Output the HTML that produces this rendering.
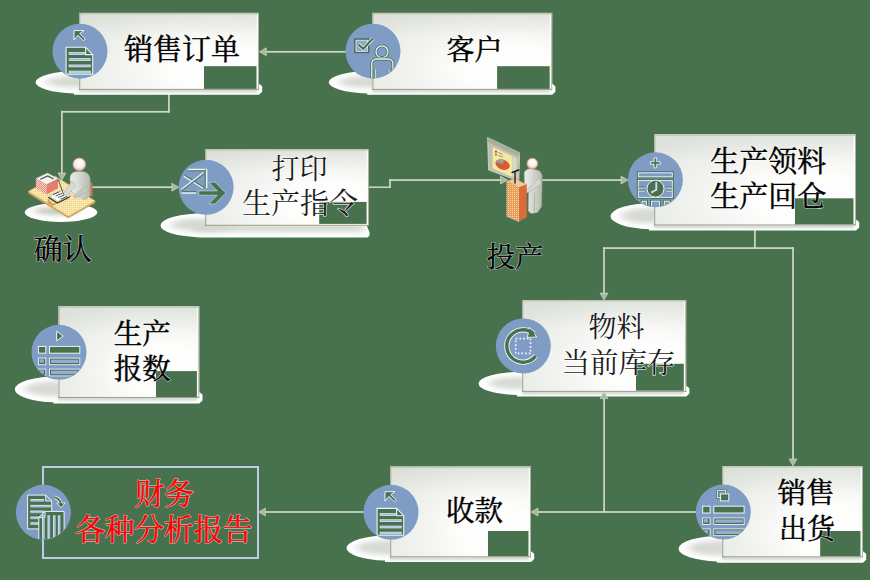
<!DOCTYPE html><html><head><meta charset="utf-8"><title>flow</title><style>html,body{margin:0;padding:0;background:#47724d;font-family:"Liberation Sans",sans-serif;}svg{display:block}svg text{font-family:"Liberation Serif","Noto Serif CJK SC",serif;text-anchor:middle}</style></head><body>
<svg width="870" height="580" viewBox="0 0 870 580">
<defs>
<radialGradient id="bg1" cx="0.78" cy="0.72" r="0.95" gradientUnits="objectBoundingBox"><stop offset="0" stop-color="#ffffff"/><stop offset="0.3" stop-color="#fdfdfc"/><stop offset="1" stop-color="#e4e7e1"/></radialGradient><linearGradient id="tb" x1="0" y1="0" x2="0" y2="1"><stop offset="0" stop-color="#cfd4ca" stop-opacity="0.4"/><stop offset="0.3" stop-color="#cfd4ca" stop-opacity="0"/></linearGradient>
<filter id="bl" x="-20%" y="-50%" width="140%" height="200%"><feGaussianBlur stdDeviation="4 2.5"/></filter>
<filter id="bl2" x="-20%" y="-50%" width="140%" height="200%"><feGaussianBlur stdDeviation="1.2"/></filter>
</defs>
<rect width="870" height="580" fill="#47724d"/>
<rect x="168.05" y="89.00" width="1.70" height="23.70" fill="#d3d7c6"/>
<rect x="61.00" y="110.95" width="108.80" height="1.70" fill="#d3d7c6"/>
<rect x="61.05" y="110.90" width="1.70" height="62.10" fill="#d3d7c6"/>
<rect x="265.00" y="50.95" width="81.00" height="1.70" fill="#d3d7c6"/>
<rect x="91.50" y="186.35" width="80.50" height="1.70" fill="#d3d7c6"/>
<rect x="368.00" y="186.45" width="22.90" height="1.50" fill="#d3d7c6"/>
<rect x="389.15" y="179.20" width="1.70" height="8.80" fill="#d3d7c6"/>
<rect x="389.10" y="179.25" width="111.90" height="1.70" fill="#d3d7c6"/>
<rect x="541.00" y="179.25" width="80.00" height="1.70" fill="#d3d7c6"/>
<rect x="754.05" y="224.00" width="1.70" height="25.00" fill="#d3d7c6"/>
<rect x="603.10" y="247.25" width="190.80" height="1.70" fill="#d3d7c6"/>
<rect x="603.15" y="247.20" width="1.70" height="45.80" fill="#d3d7c6"/>
<rect x="792.15" y="247.20" width="1.70" height="211.80" fill="#d3d7c6"/>
<rect x="603.25" y="398.00" width="1.70" height="114.90" fill="#d3d7c6"/>
<rect x="537.00" y="511.15" width="160.00" height="1.70" fill="#d3d7c6"/>
<rect x="265.00" y="511.15" width="99.00" height="1.70" fill="#d3d7c6"/>
<clipPath id="c1"><ellipse cx="79.5" cy="82.3" rx="44.0" ry="11.3"/><path d="M74.0 83.8H259.0L262.2 86.3V91.8L259.0 94.8H74.0Z"/></clipPath>
<g clip-path="url(#c1)"><rect x="29.0" y="12.9" width="240.0" height="96.9" fill="#ffffff"/>
<ellipse cx="76.5" cy="81.8" rx="31.0" ry="5.8" fill="#d6dad3" filter="url(#bl)"/>
<rect x="79.0" y="89.3" width="178.0" height="3" fill="#d0d4cc" filter="url(#bl2)"/>
</g>
<rect x="79.00" y="12.90" width="180.00" height="76.90" fill="url(#bg1)"/>
<rect x="79.00" y="12.90" width="180.00" height="76.90" fill="url(#tb)"/>
<rect x="204.00" y="66.20" width="52.80" height="22.70" fill="#47724d"/>
<rect x="79.00" y="12.90" width="180.00" height="1.6" fill="#c3c9b7"/>
<rect x="79.00" y="12.90" width="1.3" height="76.90" fill="#adb39e"/>
<rect x="256.60" y="14.50" width="1.6" height="74.40" fill="#fbfbf9"/>
<rect x="258.10" y="12.90" width="0.9" height="76.90" fill="#a5aa95"/>
<rect x="79.00" y="88.90" width="180.00" height="0.9" fill="#8f937f"/>
<clipPath id="c2"><ellipse cx="372.7" cy="82.3" rx="44.0" ry="11.3"/><path d="M367.2 83.8H552.2L555.4 86.3V91.8L552.2 94.8H367.2Z"/></clipPath>
<g clip-path="url(#c2)"><rect x="322.2" y="12.9" width="240.0" height="96.9" fill="#ffffff"/>
<ellipse cx="369.7" cy="81.8" rx="31.0" ry="5.8" fill="#d6dad3" filter="url(#bl)"/>
<rect x="372.2" y="89.3" width="178.0" height="3" fill="#d0d4cc" filter="url(#bl2)"/>
</g>
<rect x="372.20" y="12.90" width="180.00" height="76.90" fill="url(#bg1)"/>
<rect x="372.20" y="12.90" width="180.00" height="76.90" fill="url(#tb)"/>
<rect x="497.10" y="66.20" width="52.70" height="22.70" fill="#47724d"/>
<rect x="372.20" y="12.90" width="180.00" height="1.6" fill="#c3c9b7"/>
<rect x="372.20" y="12.90" width="1.3" height="76.90" fill="#adb39e"/>
<rect x="549.80" y="14.50" width="1.6" height="74.40" fill="#fbfbf9"/>
<rect x="551.30" y="12.90" width="0.9" height="76.90" fill="#a5aa95"/>
<rect x="372.20" y="88.90" width="180.00" height="0.9" fill="#8f937f"/>
<clipPath id="c3"><ellipse cx="205.5" cy="225.4" rx="45.0" ry="12.1"/><path d="M200.0 223.7H366.0L369.5 232.2V235.5L367.5 237.5H200.0Z"/></clipPath>
<g clip-path="url(#c3)"><rect x="155.0" y="149.2" width="224.0" height="96.5" fill="#ffffff"/>
<ellipse cx="202.5" cy="224.9" rx="32.0" ry="6.6" fill="#d6dad3" filter="url(#bl)"/>
<rect x="195.0" y="224.7" width="169.0" height="7" fill="#d3d7cf" filter="url(#bl)"/>
</g>
<rect x="205.00" y="149.20" width="164.00" height="76.50" fill="url(#bg1)"/>
<rect x="205.00" y="149.20" width="164.00" height="76.50" fill="url(#tb)"/>
<rect x="319.20" y="201.90" width="47.70" height="22.00" fill="#47724d"/>
<rect x="205.00" y="149.20" width="164.00" height="1.6" fill="#c3c9b7"/>
<rect x="205.00" y="149.20" width="1.3" height="76.50" fill="#adb39e"/>
<rect x="366.60" y="150.80" width="1.6" height="74.00" fill="#fbfbf9"/>
<rect x="368.10" y="149.20" width="0.9" height="76.50" fill="#a5aa95"/>
<rect x="205.00" y="224.80" width="164.00" height="0.9" fill="#8f937f"/>
<clipPath id="c4"><ellipse cx="654.5" cy="216.2" rx="44.0" ry="13.2"/><path d="M649.0 219.4H856.0L859.2 221.9V227.6L856.0 230.6H649.0Z"/></clipPath>
<g clip-path="url(#c4)"><rect x="604.0" y="134.2" width="262.0" height="111.2" fill="#ffffff"/>
<ellipse cx="651.5" cy="215.7" rx="31.0" ry="7.7" fill="#d6dad3" filter="url(#bl)"/>
<rect x="654.0" y="224.9" width="200.0" height="3" fill="#d0d4cc" filter="url(#bl2)"/>
</g>
<rect x="654.00" y="134.20" width="202.00" height="91.20" fill="url(#bg1)"/>
<rect x="654.00" y="134.20" width="202.00" height="91.20" fill="url(#tb)"/>
<rect x="795.00" y="198.30" width="58.80" height="26.20" fill="#47724d"/>
<rect x="654.00" y="134.20" width="202.00" height="1.6" fill="#c3c9b7"/>
<rect x="654.00" y="134.20" width="1.3" height="91.20" fill="#adb39e"/>
<rect x="853.60" y="135.80" width="1.6" height="88.70" fill="#fbfbf9"/>
<rect x="855.10" y="134.20" width="0.9" height="91.20" fill="#a5aa95"/>
<rect x="654.00" y="224.50" width="202.00" height="0.9" fill="#8f937f"/>
<clipPath id="c5"><ellipse cx="58.8" cy="389.3" rx="44.0" ry="13.1"/><path d="M53.3 392.0H199.3L202.5 394.5V400.6L199.3 403.6H53.3Z"/></clipPath>
<g clip-path="url(#c5)"><rect x="8.3" y="306.2" width="201.0" height="111.8" fill="#ffffff"/>
<ellipse cx="55.8" cy="388.8" rx="31.0" ry="7.6" fill="#d6dad3" filter="url(#bl)"/>
<rect x="58.3" y="397.5" width="139.0" height="3" fill="#d0d4cc" filter="url(#bl2)"/>
</g>
<rect x="58.30" y="306.20" width="141.00" height="91.80" fill="url(#bg1)"/>
<rect x="58.30" y="306.20" width="141.00" height="91.80" fill="url(#tb)"/>
<rect x="156.00" y="371.10" width="41.10" height="25.90" fill="#47724d"/>
<rect x="58.30" y="306.20" width="141.00" height="1.6" fill="#c3c9b7"/>
<rect x="58.30" y="306.20" width="1.3" height="91.80" fill="#adb39e"/>
<rect x="196.90" y="307.80" width="1.6" height="89.30" fill="#fbfbf9"/>
<rect x="198.40" y="306.20" width="0.9" height="91.80" fill="#a5aa95"/>
<rect x="58.30" y="397.10" width="141.00" height="0.9" fill="#8f937f"/>
<clipPath id="c6"><ellipse cx="522.5" cy="383.5" rx="44.0" ry="11.7"/><path d="M517.0 385.8H686.2L689.4 388.3V393.4L686.2 396.4H517.0Z"/></clipPath>
<g clip-path="url(#c6)"><rect x="472.0" y="300.0" width="224.2" height="111.8" fill="#ffffff"/>
<ellipse cx="519.5" cy="383.0" rx="31.0" ry="6.2" fill="#d6dad3" filter="url(#bl)"/>
<rect x="522.0" y="391.3" width="162.2" height="3" fill="#d0d4cc" filter="url(#bl2)"/>
</g>
<rect x="522.00" y="300.00" width="164.20" height="91.80" fill="url(#bg1)"/>
<rect x="522.00" y="300.00" width="164.20" height="91.80" fill="url(#tb)"/>
<rect x="636.00" y="363.80" width="48.00" height="26.90" fill="#47724d"/>
<rect x="522.00" y="300.00" width="164.20" height="1.6" fill="#c3c9b7"/>
<rect x="522.00" y="300.00" width="1.3" height="91.80" fill="#adb39e"/>
<rect x="683.80" y="301.60" width="1.6" height="89.30" fill="#fbfbf9"/>
<rect x="685.30" y="300.00" width="0.9" height="91.80" fill="#a5aa95"/>
<rect x="522.00" y="390.90" width="164.20" height="0.9" fill="#8f937f"/>
<clipPath id="c7"><ellipse cx="722.5" cy="548.7" rx="44.0" ry="12.9"/><path d="M717.0 551.3H863.0L866.2 553.8V559.8L863.0 562.8H717.0Z"/></clipPath>
<g clip-path="url(#c7)"><rect x="672.0" y="466.0" width="201.0" height="111.3" fill="#ffffff"/>
<ellipse cx="719.5" cy="548.2" rx="31.0" ry="7.4" fill="#d6dad3" filter="url(#bl)"/>
<rect x="722.0" y="556.8" width="139.0" height="3" fill="#d0d4cc" filter="url(#bl2)"/>
</g>
<rect x="722.00" y="466.00" width="141.00" height="91.30" fill="url(#bg1)"/>
<rect x="722.00" y="466.00" width="141.00" height="91.30" fill="url(#tb)"/>
<rect x="820.20" y="531.00" width="40.60" height="25.40" fill="#47724d"/>
<rect x="722.00" y="466.00" width="141.00" height="1.6" fill="#c3c9b7"/>
<rect x="722.00" y="466.00" width="1.3" height="91.30" fill="#adb39e"/>
<rect x="860.60" y="467.60" width="1.6" height="88.80" fill="#fbfbf9"/>
<rect x="862.10" y="466.00" width="0.9" height="91.30" fill="#a5aa95"/>
<rect x="722.00" y="556.40" width="141.00" height="0.9" fill="#8f937f"/>
<clipPath id="c9"><ellipse cx="390.5" cy="548.0" rx="44.0" ry="12.7"/><path d="M385.0 551.3H531.0L534.2 553.8V558.9L531.0 561.9H385.0Z"/></clipPath>
<g clip-path="url(#c9)"><rect x="340.0" y="466.5" width="201.0" height="110.8" fill="#ffffff"/>
<ellipse cx="387.5" cy="547.5" rx="31.0" ry="7.2" fill="#d6dad3" filter="url(#bl)"/>
<rect x="390.0" y="556.8" width="139.0" height="3" fill="#d0d4cc" filter="url(#bl2)"/>
</g>
<rect x="390.00" y="466.50" width="141.00" height="90.80" fill="url(#bg1)"/>
<rect x="390.00" y="466.50" width="141.00" height="90.80" fill="url(#tb)"/>
<rect x="488.00" y="531.00" width="40.80" height="25.40" fill="#47724d"/>
<rect x="390.00" y="466.50" width="141.00" height="1.6" fill="#c3c9b7"/>
<rect x="390.00" y="466.50" width="1.3" height="90.80" fill="#adb39e"/>
<rect x="528.60" y="468.10" width="1.6" height="88.30" fill="#fbfbf9"/>
<rect x="530.10" y="466.50" width="0.9" height="90.80" fill="#a5aa95"/>
<rect x="390.00" y="556.40" width="141.00" height="0.9" fill="#8f937f"/>
<rect x="43" y="467" width="215" height="91" fill="none" stroke="#bccbe6" stroke-width="2"/>
<polygon points="259.3,51.8 266.3,47.8 266.3,55.8" fill="#aab8a0" stroke="#d9ddd0" stroke-width="0.6"/>
<polygon points="61.9,180.0 57.9,173.0 65.9,173.0" fill="#aab8a0" stroke="#d9ddd0" stroke-width="0.6"/>
<polygon points="178.8,187.2 171.8,183.2 171.8,191.2" fill="#aab8a0" stroke="#d9ddd0" stroke-width="0.6"/>
<polygon points="628.0,180.1 621.0,176.1 621.0,184.1" fill="#aab8a0" stroke="#d9ddd0" stroke-width="0.6"/>
<polygon points="604.0,300.1 600.0,293.1 608.0,293.1" fill="#aab8a0" stroke="#d9ddd0" stroke-width="0.6"/>
<polygon points="793.0,466.0 789.0,459.0 797.0,459.0" fill="#aab8a0" stroke="#d9ddd0" stroke-width="0.6"/>
<polygon points="604.0,391.6 600.0,398.6 608.0,398.6" fill="#aab8a0" stroke="#d9ddd0" stroke-width="0.6"/>
<polygon points="531.0,512.0 538.0,508.0 538.0,516.0" fill="#aab8a0" stroke="#d9ddd0" stroke-width="0.6"/>
<polygon points="258.5,512.0 265.5,508.0 265.5,516.0" fill="#aab8a0" stroke="#d9ddd0" stroke-width="0.6"/>
<circle cx="80.00" cy="51.20" r="27.50" fill="#7f9cc5"/>
<circle cx="373.00" cy="51.20" r="27.50" fill="#7f9cc5"/>
<circle cx="206.10" cy="187.30" r="27.50" fill="#7f9cc5"/>
<circle cx="655.40" cy="179.80" r="27.50" fill="#7f9cc5"/>
<circle cx="59.00" cy="352.30" r="27.50" fill="#7f9cc5"/>
<circle cx="523.30" cy="346.00" r="27.50" fill="#7f9cc5"/>
<circle cx="723.30" cy="512.10" r="27.50" fill="#7f9cc5"/>
<circle cx="43.40" cy="512.30" r="27.50" fill="#7f9cc5"/>
<circle cx="391.00" cy="512.30" r="27.50" fill="#7f9cc5"/>
<clipPath id="ic1"><circle cx="80.00" cy="51.20" r="27.00"/></clipPath>
<g clip-path="url(#ic1)"><g transform="translate(80.00 51.20)">
<polygon points="-13.90,-3.90 5.60,-3.90 12.70,3.40 12.70,22.90 -13.90,22.90" fill="#47724d" stroke="#eef2f8" stroke-width="1.1" stroke-linejoin="miter" />
<polyline points="5.6,-3.9 5.6,3.4 12.7,3.4" fill="none" stroke="#eef2f8" stroke-width="1.1"/>
<rect x="-10.9" y="1.25" width="15.50" height="1.9" fill="#9db8e2" stroke="#eef2f8" stroke-width="0.7"/>
<rect x="-10.9" y="7.45" width="21.20" height="1.9" fill="#9db8e2" stroke="#eef2f8" stroke-width="0.7"/>
<rect x="-10.9" y="13.75" width="21.20" height="1.9" fill="#9db8e2" stroke="#eef2f8" stroke-width="0.7"/>
<rect x="-10.9" y="19.85" width="21.20" height="1.9" fill="#9db8e2" stroke="#eef2f8" stroke-width="0.7"/>
<polygon points="-6.00,-20.60 4.00,-20.60 -0.20,-17.70 5.30,-12.20 3.50,-10.40 -2.00,-15.90 -6.00,-11.20" fill="#47724d" stroke="#eef2f8" stroke-width="1.0" stroke-linejoin="miter" />
</g></g>
<clipPath id="ic2"><circle cx="373.00" cy="51.20" r="27.00"/></clipPath>
<g clip-path="url(#ic2)"><g transform="translate(373.00 51.20)">
<rect x="-18.10" y="-12.10" width="13.70" height="13.30" fill="none" stroke="#47724d" stroke-width="1.6"/>
<rect x="-17.00" y="-11.00" width="11.50" height="11.10" fill="#8ea8d0" stroke="#eef2f8" stroke-width="0.7"/>
<polyline points="-14.6,-6.8 -9.8,-2.4 -0.4,-12.4" fill="none" stroke="#eef2f8" stroke-width="3.6" />
<polyline points="-14.6,-6.8 -9.8,-2.4 -0.4,-12.4" fill="none" stroke="#47724d" stroke-width="2.0" />
<circle cx="9" cy="0.6" r="6" fill="none" stroke="#47724d" stroke-width="2.8"/>
<circle cx="9" cy="0.6" r="6" fill="none" stroke="#eef2f8" stroke-width="1.3"/>
<path d="M-1.2 30V12.3A4.5 4.5 0 0 1 3.3 7.8H15.4A4.5 4.5 0 0 1 19.9 12.3V30" fill="none" stroke="#47724d" stroke-width="2.8"/>
<path d="M-1.2 30V12.3A4.5 4.5 0 0 1 3.3 7.8H15.4A4.5 4.5 0 0 1 19.9 12.3V30" fill="none" stroke="#eef2f8" stroke-width="1.3"/>
<path d="M2.8 18V30M15.9 18V30" fill="none" stroke="#47724d" stroke-width="2.6"/>
<path d="M2.8 18V30M15.9 18V30" fill="none" stroke="#eef2f8" stroke-width="1.2"/>
</g></g>
<clipPath id="ic3"><circle cx="206.10" cy="187.30" r="27.00"/></clipPath>
<g clip-path="url(#ic3)"><g transform="translate(206.10 187.30)">
<line x1="-18.20" y1="-16.90" x2="1.20" y2="-16.90" stroke="#47724d" stroke-width="1.7000000000000002" stroke-linecap="butt"/>
<line x1="-18.20" y1="-17.80" x2="1.20" y2="-17.80" stroke="#eef2f8" stroke-width="1.3" stroke-linecap="butt"/>
<line x1="-0.40" y1="-17.80" x2="-0.40" y2="0.90" stroke="#47724d" stroke-width="2.0" stroke-linecap="butt"/>
<line x1="0.50" y1="-17.80" x2="0.50" y2="0.90" stroke="#eef2f8" stroke-width="1.6" stroke-linecap="butt"/>
<line x1="-24.80" y1="4.80" x2="-9.80" y2="4.80" stroke="#47724d" stroke-width="1.7000000000000002" stroke-linecap="butt"/>
<line x1="-24.80" y1="5.70" x2="-9.80" y2="5.70" stroke="#eef2f8" stroke-width="1.3" stroke-linecap="butt"/>
<line x1="-21.80" y1="-11.80" x2="-2.50" y2="0.30" stroke="#47724d" stroke-width="1.7000000000000002" stroke-linecap="butt"/>
<line x1="-22.40" y1="-11.20" x2="-3.10" y2="0.90" stroke="#eef2f8" stroke-width="1.3" stroke-linecap="butt"/>
<line x1="-1.90" y1="-14.20" x2="-24.20" y2="2.70" stroke="#47724d" stroke-width="1.7000000000000002" stroke-linecap="butt"/>
<line x1="-2.50" y1="-14.80" x2="-24.80" y2="2.10" stroke="#eef2f8" stroke-width="1.3" stroke-linecap="butt"/>
<polygon points="-7.30,3.60 11.20,3.60 2.80,-5.10 8.90,-5.10 19.80,5.70 8.90,16.60 2.80,16.60 11.20,7.90 -7.30,7.90" fill="#47724d" stroke="#eef2f8" stroke-width="0.5" stroke-linejoin="miter" />
</g></g>
<clipPath id="ic4"><circle cx="655.40" cy="179.80" r="27.00"/></clipPath>
<g clip-path="url(#ic4)"><g transform="translate(655.40 179.80)">
<polygon points="-1.30,-21.90 1.30,-21.90 1.30,-18.20 5.00,-18.20 5.00,-15.60 1.30,-15.60 1.30,-11.90 -1.30,-11.90 -1.30,-15.60 -5.00,-15.60 -5.00,-18.20 -1.30,-18.20" fill="#47724d" stroke="#eef2f8" stroke-width="0.9" stroke-linejoin="miter" />
<rect x="-18.10" y="-8.00" width="36.00" height="6.00" fill="none" stroke="#47724d" stroke-width="1.1"/>
<rect x="-17.10" y="-7.00" width="34.00" height="4.00" fill="none" stroke="#eef2f8" stroke-width="0.9"/>
<rect x="-18.10" y="-0.40" width="36.00" height="19.00" fill="none" stroke="#47724d" stroke-width="1.1"/>
<rect x="-17.10" y="0.60" width="34.00" height="17.00" fill="none" stroke="#eef2f8" stroke-width="0.9"/>
<rect x="-17.00" y="6.9" width="6.40" height="1" fill="#47724d"/>
<rect x="-17.00" y="7.9" width="6.40" height="0.8" fill="#eef2f8"/>
<rect x="-17.00" y="9.9" width="6.40" height="1" fill="#47724d"/>
<rect x="-17.00" y="10.9" width="6.40" height="0.8" fill="#eef2f8"/>
<rect x="11.20" y="6.9" width="5.80" height="1" fill="#47724d"/>
<rect x="11.20" y="7.9" width="5.80" height="0.8" fill="#eef2f8"/>
<rect x="11.20" y="9.9" width="5.80" height="1" fill="#47724d"/>
<rect x="11.20" y="10.9" width="5.80" height="0.8" fill="#eef2f8"/>
<rect x="-14.30" y="20.40" width="6.30" height="11.60" fill="none" stroke="#47724d" stroke-width="1.1"/>
<rect x="-13.30" y="21.40" width="4.30" height="9.60" fill="none" stroke="#eef2f8" stroke-width="0.9"/>
<rect x="-4.90" y="20.40" width="10.00" height="11.60" fill="none" stroke="#47724d" stroke-width="1.1"/>
<rect x="-3.90" y="21.40" width="8.00" height="9.60" fill="none" stroke="#eef2f8" stroke-width="0.9"/>
<rect x="7.90" y="20.40" width="6.90" height="11.60" fill="none" stroke="#47724d" stroke-width="1.1"/>
<rect x="8.90" y="21.40" width="4.90" height="9.60" fill="none" stroke="#eef2f8" stroke-width="0.9"/>
<circle cx="0.1" cy="8.9" r="8.5" fill="#47724d" stroke="#eef2f8" stroke-width="1.0"/>
<polyline points="0.9,2.2 0.9,10 -4.2,12.9" fill="none" stroke="#cfdcf0" stroke-width="1.9"/>
</g></g>
<clipPath id="ic5"><circle cx="59.00" cy="352.30" r="27.00"/></clipPath>
<g clip-path="url(#ic5)"><g transform="translate(59.00 352.30)">
<polygon points="-2.40,-21.10 -2.40,-11.40 4.20,-16.20" fill="#47724d" stroke="#eef2f8" stroke-width="1.0" stroke-linejoin="miter" />
<rect x="-20.60" y="-5.90" width="7.40" height="6.80" fill="#47724d" stroke="#eef2f8" stroke-width="1.0"/>
<rect x="-9.50" y="-5.90" width="30.30" height="6.80" fill="#47724d" stroke="#eef2f8" stroke-width="1.0"/>
<rect x="-20.60" y="5.80" width="7.40" height="6.60" fill="#47724d" stroke="#eef2f8" stroke-width="0.9"/>
<rect x="-19.4" y="7.00" width="4.2" height="3.40" fill="#93add6"/>
<rect x="-9.50" y="5.80" width="30.30" height="6.60" fill="#47724d" stroke="#eef2f8" stroke-width="0.9"/>
<rect x="-8.0" y="7.30" width="27.4" height="3.40" fill="#93add6"/>
<rect x="-20.60" y="16.80" width="7.40" height="6.80" fill="#47724d" stroke="#eef2f8" stroke-width="0.9"/>
<rect x="-19.4" y="18.00" width="4.2" height="3.60" fill="#93add6"/>
<rect x="-9.50" y="16.80" width="30.30" height="6.80" fill="#47724d" stroke="#eef2f8" stroke-width="0.9"/>
<rect x="-8.0" y="18.30" width="27.4" height="3.60" fill="#93add6"/>
</g></g>
<clipPath id="ic6"><circle cx="523.30" cy="346.00" r="27.00"/></clipPath>
<g clip-path="url(#ic6)"><g transform="translate(523.30 346.00)">
<path d="M10.54 -12.04A16.20 16.20 0 1 0 12.47 9.97" fill="none" stroke="#eef2f8" stroke-width="5.2"/>
<polygon points="6.00,-18.80 13.40,-9.20 4.20,-8.60" fill="#47724d" stroke="#eef2f8" stroke-width="1.0" stroke-linejoin="miter" />
<path d="M10.54 -12.04A16.20 16.20 0 1 0 12.47 9.97" fill="none" stroke="#47724d" stroke-width="3.4"/>
<polygon points="6.60,-17.20 12.20,-9.80 5.20,-9.40" fill="#47724d" stroke="none" stroke-width="0" stroke-linejoin="miter" />
<rect x="-7.6" y="-7.4" width="14.8" height="14.8" fill="none" stroke="#eef2f8" stroke-width="1.7" stroke-dasharray="1.7 2.0"/>
</g></g>
<clipPath id="ic7"><circle cx="723.30" cy="512.10" r="27.00"/></clipPath>
<g clip-path="url(#ic7)"><g transform="translate(723.30 512.10)">
<rect x="-5.70" y="-21.80" width="7.80" height="7.20" fill="none" stroke="#47724d" stroke-width="2.2"/>
<rect x="-5.70" y="-21.80" width="7.80" height="7.20" fill="none" stroke="#eef2f8" stroke-width="0.9"/>
<rect x="-2.70" y="-18.20" width="8.20" height="7.00" fill="#47724d" stroke="#eef2f8" stroke-width="1.0"/>
<rect x="-20.60" y="-5.90" width="7.40" height="6.80" fill="#47724d" stroke="#eef2f8" stroke-width="1.0"/>
<rect x="-9.50" y="-5.90" width="30.30" height="6.80" fill="#47724d" stroke="#eef2f8" stroke-width="1.0"/>
<rect x="-20.60" y="5.80" width="7.40" height="6.60" fill="#47724d" stroke="#eef2f8" stroke-width="0.9"/>
<rect x="-19.4" y="7.00" width="4.2" height="3.40" fill="#93add6"/>
<rect x="-9.50" y="5.80" width="30.30" height="6.60" fill="#47724d" stroke="#eef2f8" stroke-width="0.9"/>
<rect x="-8.0" y="7.30" width="27.4" height="3.40" fill="#93add6"/>
<rect x="-20.60" y="16.80" width="7.40" height="6.80" fill="#47724d" stroke="#eef2f8" stroke-width="0.9"/>
<rect x="-19.4" y="18.00" width="4.2" height="3.60" fill="#93add6"/>
<rect x="-9.50" y="16.80" width="30.30" height="6.80" fill="#47724d" stroke="#eef2f8" stroke-width="0.9"/>
<rect x="-8.0" y="18.30" width="27.4" height="3.60" fill="#93add6"/>
</g></g>
<clipPath id="ic8"><circle cx="43.40" cy="512.30" r="27.00"/></clipPath>
<g clip-path="url(#ic8)"><g transform="translate(43.40 512.30)">
<polygon points="-15.80,-17.20 2.20,-17.20 8.30,-11.20 8.30,16.60 -15.80,16.60" fill="#47724d" stroke="#eef2f8" stroke-width="1.0" stroke-linejoin="miter" />
<polygon points="2.20,-17.20 8.30,-11.20 2.20,-11.20" fill="#7f9cc5" stroke="#eef2f8" stroke-width="0.9" stroke-linejoin="miter" />
<rect x="-13.1" y="-12.90" width="13.90" height="2.3" fill="#a9c0e2"/>
<rect x="-13.1" y="-13.20" width="13.90" height="0.7" fill="#eef2f8"/>
<rect x="-13.1" y="-7.10" width="20.50" height="2.3" fill="#a9c0e2"/>
<rect x="-13.1" y="-7.40" width="20.50" height="0.7" fill="#eef2f8"/>
<rect x="-13.1" y="-1.40" width="13.90" height="2.3" fill="#a9c0e2"/>
<rect x="-13.1" y="-1.70" width="13.90" height="0.7" fill="#eef2f8"/>
<rect x="-13.1" y="4.60" width="13.90" height="2.3" fill="#a9c0e2"/>
<rect x="-13.1" y="4.30" width="13.90" height="0.7" fill="#eef2f8"/>
<rect x="-13.1" y="10.40" width="13.90" height="2.3" fill="#a9c0e2"/>
<rect x="-13.1" y="10.10" width="13.90" height="0.7" fill="#eef2f8"/>
<polygon points="1.60,-0.90 20.70,-0.90 20.70,30.00 -4.60,30.00 -4.60,5.30" fill="#47724d" stroke="#eef2f8" stroke-width="1.0" stroke-linejoin="miter" />
<polygon points="1.60,-0.90 1.60,5.30 -4.60,5.30" fill="#7f9cc5" stroke="#eef2f8" stroke-width="0.9" stroke-linejoin="miter" />
<rect x="-0.90" y="2.9" width="2.3" height="30" fill="#a9c0e2"/>
<rect x="-1.20" y="2.9" width="0.7" height="30" fill="#eef2f8"/>
<rect x="4.50" y="2.9" width="2.3" height="30" fill="#a9c0e2"/>
<rect x="4.20" y="2.9" width="0.7" height="30" fill="#eef2f8"/>
<rect x="10.00" y="2.9" width="2.3" height="30" fill="#a9c0e2"/>
<rect x="9.70" y="2.9" width="0.7" height="30" fill="#eef2f8"/>
<rect x="14.80" y="2.9" width="2.3" height="30" fill="#a9c0e2"/>
<rect x="14.50" y="2.9" width="0.7" height="30" fill="#eef2f8"/>
<path d="M10.8 -15.2Q17.2 -13.6 17.6 -7.4" fill="none" stroke="#eef2f8" stroke-width="3.4"/>
<polygon points="13.40,-9.40 21.80,-9.40 17.60,-4.40" fill="#47724d" stroke="#eef2f8" stroke-width="0.9" stroke-linejoin="miter" />
<path d="M10.8 -15.2Q17.2 -13.6 17.6 -7.4" fill="none" stroke="#47724d" stroke-width="1.8"/>
</g></g>
<clipPath id="ic9"><circle cx="391.00" cy="512.30" r="27.00"/></clipPath>
<g clip-path="url(#ic9)"><g transform="translate(391.00 512.30)">
<polygon points="-13.90,-3.90 5.60,-3.90 12.70,3.40 12.70,22.90 -13.90,22.90" fill="#47724d" stroke="#eef2f8" stroke-width="1.1" stroke-linejoin="miter" />
<polyline points="5.6,-3.9 5.6,3.4 12.7,3.4" fill="none" stroke="#eef2f8" stroke-width="1.1"/>
<rect x="-10.9" y="1.25" width="15.50" height="1.9" fill="#9db8e2" stroke="#eef2f8" stroke-width="0.7"/>
<rect x="-10.9" y="7.45" width="21.20" height="1.9" fill="#9db8e2" stroke="#eef2f8" stroke-width="0.7"/>
<rect x="-10.9" y="13.75" width="21.20" height="1.9" fill="#9db8e2" stroke="#eef2f8" stroke-width="0.7"/>
<rect x="-10.9" y="19.85" width="21.20" height="1.9" fill="#9db8e2" stroke="#eef2f8" stroke-width="0.7"/>
<polygon points="-6.00,-20.60 4.00,-20.60 -0.20,-17.70 5.30,-12.20 3.50,-10.40 -2.00,-15.90 -6.00,-11.20" fill="#47724d" stroke="#eef2f8" stroke-width="1.0" stroke-linejoin="miter" />
</g></g>
<polygon points="507.5,180.1 500.5,176.1 500.5,184.1" fill="#aab8a0" stroke="#d9ddd0" stroke-width="0.6"/>
<defs>
<radialGradient id="hd" cx="0.5" cy="0.4" r="0.6"><stop offset="0" stop-color="#ffffff"/><stop offset="0.6" stop-color="#fbeee8"/><stop offset="1" stop-color="#e9a898"/></radialGradient>
<linearGradient id="bd" x1="0" y1="0" x2="1" y2="0"><stop offset="0" stop-color="#eceee9"/><stop offset="0.45" stop-color="#d6d9d1"/><stop offset="1" stop-color="#b4b9ad"/></linearGradient>
<pattern id="chk" width="2" height="2" patternUnits="userSpaceOnUse"><rect width="2" height="2" fill="#e98a78"/><rect width="1" height="1" fill="#f6d5cc"/><rect x="1" y="1" width="1" height="1" fill="#f6d5cc"/></pattern>
<pattern id="dsk" width="2" height="2" patternUnits="userSpaceOnUse"><rect width="2" height="2" fill="#f6e2a0"/><rect width="1" height="1" fill="#fbf0c4"/><rect x="1" y="1" width="1" height="1" fill="#f1d590"/></pattern>
<pattern id="pod" width="2" height="2" patternUnits="userSpaceOnUse"><rect width="2" height="2" fill="#ea9a5c"/><rect width="1" height="1" fill="#f8dc98"/></pattern>
<filter id="fb" x="-30%" y="-60%" width="160%" height="220%"><feGaussianBlur stdDeviation="4 2"/></filter>
</defs>
<ellipse cx="61" cy="212.4" rx="36.3" ry="9.5" fill="#ffffff"/>
<ellipse cx="56" cy="211" rx="22" ry="4.2" fill="#c9cdc6" filter="url(#fb)"/>
<polygon points="28.3,193.4 68.3,218.2 95.2,203 95.2,201 68.3,216.2 28.3,191.4" fill="#c9a45a"/>
<polygon points="28.3,191.4 55.2,176.2 95.2,201 68.3,216.2" fill="url(#dsk)" stroke="#d9b56a" stroke-width="0.6"/>
<polygon points="89.2,181.5 92.6,183.2 92.6,196.5 89.2,195" fill="#c9794f"/>
<polygon points="35.9,178.6 47.5,173 58,178.8 46.5,184.6" fill="#f4f4f1" stroke="#b9b9b0" stroke-width="0.5"/>
<polyline points="40.3,179.2 47.8,176 53.6,179" fill="none" stroke="#4a4a48" stroke-width="1.2"/>
<polygon points="35.9,178.6 46.5,184.6 46.5,194.6 35.9,188.6" fill="url(#chk)"/>
<polygon points="46.5,184.6 58,178.8 58,188.2 46.5,194.6" fill="#e47e6c"/>
<polygon points="49.5,196.2 62.5,190.2 70.5,195.2 57.5,201.6" fill="#fbfbf8" stroke="#8c8c80" stroke-width="0.5"/>
<polyline points="48.2,197.2 57.2,203 70.8,196.4" fill="none" stroke="#2e2e2c" stroke-width="1.1"/>
<line x1="53.0" y1="194.6" x2="59.5" y2="191.8" stroke="#3c3c3c" stroke-width="0.9"/>
<line x1="55.6" y1="196.1" x2="62.1" y2="193.3" stroke="#3c3c3c" stroke-width="0.9"/>
<line x1="58.2" y1="197.6" x2="64.7" y2="194.8" stroke="#3c3c3c" stroke-width="0.9"/>
<line x1="60.8" y1="199.1" x2="67.3" y2="196.3" stroke="#3c3c3c" stroke-width="0.9"/>
<polygon points="48,198.5 52,203 57,203.5 53,206 47.5,203.5" fill="#d8a24c"/>
<path d="M70 178C70 173.5 73.5 171.6 77 171.4L83 171.6C88 172.4 90.2 176 90.2 180L90 196.5L84.5 199.5L78 196L72.8 193.2L70.5 190Z" fill="url(#bd)" stroke="#9aa092" stroke-width="0.5"/>
<path d="M72 181L63.5 193.5L66.5 195.8L75.5 186Z" fill="#d9dcd4" stroke="#9aa092" stroke-width="0.4"/>
<path d="M86 186L74.5 195.2L71 197L72 198.6L77 197.6L88.5 190.5Z" fill="#c4c9c0" stroke="#9aa092" stroke-width="0.4"/>
<ellipse cx="71.8" cy="197.6" rx="2.2" ry="1.4" fill="#fbe6dc"/>
<line x1="58.8" y1="181" x2="63.6" y2="194.6" stroke="#5a5046" stroke-width="1.0"/>
<circle cx="58.6" cy="180.4" r="1.1" fill="#4d7fc4"/>
<circle cx="79.3" cy="164.4" r="6.3" fill="url(#hd)" stroke="#e2a596" stroke-width="0.8"/>
<polygon points="487.6,137.6 519.6,152.8 518.8,181 488.6,170" fill="#bcc0b1" stroke="#d8dbd0" stroke-width="0.8"/>
<polygon points="487.6,137.4 519.6,152.6 519.4,157 487.8,142" fill="#a9ae9e"/>
<polygon points="492.6,147 512.4,156.2 512.4,177 492.6,168.6" fill="#f6e7a4"/>
<polygon points="512.4,156.2 516.6,158.1 516.6,178.8 512.4,177" fill="#d4d7c6"/><line x1="514.5" y1="158.5" x2="514.5" y2="177" stroke="#f3e290" stroke-width="1.6" stroke-dasharray="1 1"/>
<g transform="rotate(22 502.6 164.6)"><ellipse cx="502.6" cy="164.6" rx="7.4" ry="4.9" fill="#d25c2e"/><path d="M502.6 164.6L495.2 164.6A7.4 4.9 0 0 1 502.6 159.7Z" fill="#9c9c94"/></g>
<rect x="495" y="150.6" width="2" height="2" fill="#d9452c"/><rect x="495" y="153.6" width="2" height="2" fill="#8c8c88"/>
<line x1="498.2" y1="152.4" x2="503" y2="154.4" stroke="#8a8a80" stroke-width="0.9"/><line x1="498.2" y1="155.2" x2="503" y2="157.2" stroke="#8a8a80" stroke-width="0.9"/>
<path d="M524.2 173.5C524.4 170.4 527.6 168.6 531 168.8L537 170C540.6 171 542.4 174 542.2 177L541.6 206.5L537.5 212.6L531.2 213.6L528.2 211L528.6 192L524.6 190.6Z" fill="url(#bd)" stroke="#9aa092" stroke-width="0.5"/>
<path d="M539.5 178L527 190L524.4 190.8L525 193L529 192.6L541.4 183.5Z" fill="#d4d8ce" stroke="#9aa092" stroke-width="0.4"/>
<line x1="534.6" y1="193" x2="534.2" y2="211" stroke="#a7ac9f" stroke-width="0.8"/>
<ellipse cx="525" cy="191.6" rx="1.8" ry="1.3" fill="#fbe6dc"/>
<circle cx="532.3" cy="163.6" r="5.3" fill="url(#hd)" stroke="#e2a596" stroke-width="0.8"/>
<polygon points="506.8,181 514.6,178.6 526.8,184.4 519,187.6" fill="#f3c89a" stroke="#d98a5a" stroke-width="0.4"/>
<polygon points="506.8,181 519,187.6 519,221.6 506.8,216.4" fill="url(#pod)" stroke="#c8cbb8" stroke-width="0.6"/>
<polygon points="519,187.6 526.8,184.4 526.8,217.2 519,221.6" fill="#da6b3b"/>
<line x1="515" y1="171.2" x2="515" y2="183.6" stroke="#111" stroke-width="1.3"/>
<line x1="511.6" y1="172.6" x2="519.2" y2="169.8" stroke="#111" stroke-width="1.5"/>
<g>
<text x="182" y="60.3" font-size="29" fill="#000000" stroke="#000000" stroke-width="0.45">销售订单</text>
</g>
<g>
<text x="474.5" y="60" font-size="28" fill="#000000" stroke="#000000" stroke-width="0.45">客户</text>
</g>
<g>
<text x="299.6" y="179.3" font-size="28" fill="none" stroke="#ffffff" stroke-width="1.5" stroke-linejoin="round" opacity="0.8">打印</text>
<text x="299.6" y="179.3" font-size="28" fill="#1c1c1c">打印</text>
</g>
<g>
<text x="300" y="213.8" font-size="29" fill="none" stroke="#ffffff" stroke-width="1.5" stroke-linejoin="round" opacity="0.8">生产指令</text>
<text x="300" y="213.8" font-size="29" fill="#1c1c1c">生产指令</text>
</g>
<g>
<text x="768.2" y="171.5" font-size="29" fill="none" stroke="#ffffff" stroke-width="1.5" stroke-linejoin="round" opacity="0.8">生产领料</text>
<text x="768.2" y="171.5" font-size="29" fill="#000000" stroke="#000000" stroke-width="0.45">生产领料</text>
</g>
<g>
<text x="768.2" y="207.3" font-size="29" fill="none" stroke="#ffffff" stroke-width="1.5" stroke-linejoin="round" opacity="0.8">生产回仓</text>
<text x="768.2" y="207.3" font-size="29" fill="#000000" stroke="#000000" stroke-width="0.45">生产回仓</text>
</g>
<g>
<text x="62.7" y="259.5" font-size="29" fill="none" stroke="#ffffff" stroke-width="1.5" stroke-linejoin="round" opacity="0.7">确认</text>
<text x="62.7" y="259.5" font-size="29" fill="#000000" stroke="#000000" stroke-width="0.45">确认</text>
</g>
<g>
<text x="515" y="267.3" font-size="28.5" fill="none" stroke="#ffffff" stroke-width="1.5" stroke-linejoin="round" opacity="0.7">投产</text>
<text x="515" y="267.3" font-size="28.5" fill="#000000" stroke="#000000" stroke-width="0.45">投产</text>
</g>
<g>
<text x="142.2" y="344" font-size="28.5" fill="#000000" stroke="#000000" stroke-width="0.45">生产</text>
</g>
<g>
<text x="142.2" y="379" font-size="28.5" fill="none" stroke="#ffffff" stroke-width="1.5" stroke-linejoin="round" opacity="0.8">报数</text>
<text x="142.2" y="379" font-size="28.5" fill="#000000" stroke="#000000" stroke-width="0.45">报数</text>
</g>
<g>
<text x="616.5" y="337" font-size="28" fill="none" stroke="#ffffff" stroke-width="1.5" stroke-linejoin="round" opacity="0.8">物料</text>
<text x="616.5" y="337" font-size="28" fill="#1c1c1c">物料</text>
</g>
<g>
<text x="618.6" y="373" font-size="28.5" fill="none" stroke="#ffffff" stroke-width="1.5" stroke-linejoin="round" opacity="0.8">当前库存</text>
<text x="618.6" y="373" font-size="28.5" fill="#1c1c1c">当前库存</text>
</g>
<g>
<text x="164.4" y="504" font-size="29.5" fill="none" stroke="#ffffff" stroke-width="1.6" stroke-linejoin="round" opacity="0.6">财务</text>
<text x="164.4" y="504" font-size="29.5" fill="#ff0000" stroke="#ff0000" stroke-width="0.45">财务</text>
</g>
<g>
<text x="163.9" y="539.5" font-size="29.5" fill="none" stroke="#ffffff" stroke-width="1.6" stroke-linejoin="round" opacity="0.6">各种分析报告</text>
<text x="163.9" y="539.5" font-size="29.5" fill="#ff0000" stroke="#ff0000" stroke-width="0.45">各种分析报告</text>
</g>
<g>
<text x="474.5" y="521.3" font-size="28.5" fill="#000000" stroke="#000000" stroke-width="0.45">收款</text>
</g>
<g>
<text x="806" y="503.2" font-size="28.5" fill="#000000" stroke="#000000" stroke-width="0.45">销售</text>
</g>
<g>
<text x="807" y="539.3" font-size="28" fill="none" stroke="#ffffff" stroke-width="1.5" stroke-linejoin="round" opacity="0.8">出货</text>
<text x="807" y="539.3" font-size="28" fill="#000000" stroke="#000000" stroke-width="0.45">出货</text>
</g>
</svg></body></html>
